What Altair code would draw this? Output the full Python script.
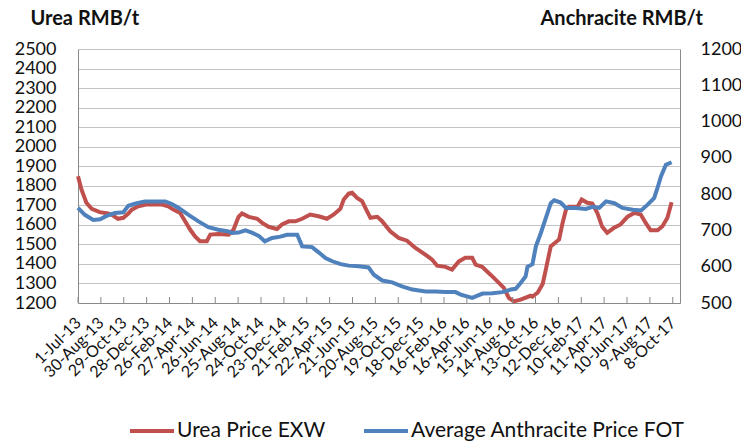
import altair as alt
import pandas as pd

# ---------------- data ----------------
urea_dates = [
    "2013-07-01", "2013-07-10", "2013-07-23", "2013-08-06", "2013-08-27", "2013-09-18",
    "2013-10-01", "2013-10-14", "2013-10-28", "2013-11-10", "2013-11-19", "2013-12-06",
    "2013-12-26", "2014-02-06", "2014-02-23", "2014-03-08", "2014-03-26", "2014-04-08",
    "2014-04-21", "2014-05-04", "2014-05-17", "2014-06-04", "2014-06-13", "2014-07-04",
    "2014-07-31", "2014-08-13", "2014-08-26", "2014-09-04", "2014-09-22", "2014-10-14",
    "2014-10-27", "2014-11-13", "2014-12-05", "2014-12-18", "2015-01-05", "2015-01-22",
    "2015-02-09", "2015-03-02", "2015-03-24", "2015-04-15", "2015-05-03", "2015-05-20",
    "2015-05-29", "2015-06-11", "2015-06-20", "2015-07-03", "2015-07-16", "2015-07-29",
    "2015-08-07", "2015-08-25", "2015-09-06", "2015-09-28", "2015-10-20", "2015-11-11",
    "2015-12-03", "2015-12-29", "2016-01-16", "2016-01-29", "2016-02-20", "2016-03-08",
    "2016-03-26", "2016-04-12", "2016-04-30", "2016-05-09", "2016-05-26", "2016-06-17",
    "2016-07-09", "2016-07-22", "2016-08-04", "2016-08-17", "2016-09-04", "2016-09-30",
    "2016-10-05", "2016-10-19", "2016-11-01", "2016-11-09", "2016-11-22", "2016-12-05",
    "2016-12-14", "2016-12-23", "2017-01-01", "2017-01-09", "2017-01-31", "2017-02-11",
    "2017-02-26", "2017-03-11", "2017-03-24", "2017-04-06", "2017-04-19", "2017-05-07",
    "2017-05-24", "2017-06-11", "2017-06-29", "2017-07-16", "2017-07-29", "2017-08-11",
    "2017-08-29", "2017-09-11", "2017-09-24", "2017-10-05",
]
urea_values = [
    1849, 1781, 1713, 1682, 1665, 1658,
    1648, 1631, 1636, 1658, 1678, 1695,
    1704, 1704, 1695, 1678, 1661, 1618,
    1576, 1541, 1516, 1516, 1550, 1553,
    1550, 1576, 1641, 1658, 1641, 1631,
    1610, 1590, 1579, 1602, 1618, 1618,
    1631, 1653, 1644, 1631, 1653, 1682,
    1730, 1760, 1764, 1738, 1721, 1670,
    1636, 1641, 1620, 1567, 1533, 1519,
    1482, 1448, 1422, 1391, 1385, 1371,
    1413, 1431, 1431, 1396, 1385, 1345,
    1303, 1277, 1226, 1208, 1217, 1237,
    1232, 1254, 1299, 1371, 1490, 1511,
    1525, 1610, 1678, 1692, 1692, 1730,
    1713, 1709, 1661, 1590, 1559, 1585,
    1602, 1641, 1661, 1653, 1610, 1572,
    1572, 1593, 1636, 1716,
]

anth_dates = [
    "2013-07-01", "2013-07-19", "2013-08-10", "2013-08-28", "2013-09-14", "2013-10-06",
    "2013-10-28", "2013-11-10", "2013-12-02", "2013-12-24", "2014-02-15", "2014-03-04",
    "2014-03-22", "2014-04-17", "2014-05-13", "2014-06-08", "2014-07-04", "2014-07-31",
    "2014-08-09", "2014-08-26", "2014-09-13", "2014-09-30", "2014-10-18", "2014-11-03",
    "2014-11-22", "2014-12-14", "2014-12-31", "2015-01-27", "2015-02-09", "2015-03-07",
    "2015-03-25", "2015-04-11", "2015-04-29", "2015-05-21", "2015-06-11", "2015-07-07",
    "2015-08-02", "2015-08-16", "2015-09-07", "2015-10-03", "2015-10-29", "2015-11-25",
    "2015-12-30", "2016-01-25", "2016-02-20", "2016-03-17", "2016-03-31", "2016-04-30",
    "2016-05-27", "2016-06-22", "2016-07-18", "2016-08-09", "2016-08-22", "2016-09-04",
    "2016-09-17", "2016-09-22", "2016-10-05", "2016-10-14", "2016-10-27", "2016-11-09",
    "2016-11-22", "2016-12-01", "2016-12-18", "2017-01-01", "2017-01-27", "2017-02-22",
    "2017-03-12", "2017-03-29", "2017-04-16", "2017-05-08", "2017-05-29", "2017-06-25",
    "2017-07-17", "2017-08-03", "2017-08-20", "2017-08-29", "2017-09-07", "2017-09-20",
    "2017-10-05",
]
anth_values = [
    762, 743, 729, 731, 740, 748,
    750, 768, 775, 780, 780, 773,
    762, 743, 725, 709, 702, 697,
    693, 694, 700, 694, 685, 670,
    679, 683, 688, 688, 656, 654,
    639, 624, 615, 607, 603, 601,
    598, 578, 562, 557, 546, 537,
    532, 532, 530, 530, 523, 514,
    526, 527, 530, 537, 539, 555,
    573, 600, 607, 656, 693, 734,
    775, 783, 777, 762, 762, 759,
    765, 762, 780, 775, 762, 757,
    755, 771, 789, 817, 849, 881,
    888,
]

series_names = ["Urea Price EXW", "Average Anthracite Price FOT"]
series_colors = ["#C0504D", "#4F81BD"]

tick_dates = [
    (2013, 7, 1), (2013, 8, 30), (2013, 10, 29), (2013, 12, 28), (2014, 2, 26),
    (2014, 4, 27), (2014, 6, 26), (2014, 8, 25), (2014, 10, 24), (2014, 12, 23),
    (2015, 2, 21), (2015, 4, 22), (2015, 6, 21), (2015, 8, 20), (2015, 10, 19),
    (2015, 12, 18), (2016, 2, 16), (2016, 4, 16), (2016, 6, 15), (2016, 8, 14),
    (2016, 10, 13), (2016, 12, 12), (2017, 2, 10), (2017, 4, 11), (2017, 6, 10),
    (2017, 8, 9), (2017, 10, 8),
]
x_start = (2013, 7, 1)
x_end = (2017, 10, 27)

left_ticks = [1200, 1300, 1400, 1500, 1600, 1700, 1800, 1900, 2000,
              2100, 2200, 2300, 2400, 2500]
right_ticks = [500, 600, 700, 800, 900, 1000, 1100, 1200]

# ---------------- chart ----------------
FONT = "Lato"
TXT = "#111111"
AXIS_GREY = "#8a8a8a"
W, H = 602, 254


def dt(t):
    return alt.DateTime(year=t[0], month=t[1], date=t[2], utc=True)


urea_df = pd.DataFrame({"date": urea_dates, "value": urea_values, "series": series_names[0]})
anth_df = pd.DataFrame({"date": anth_dates, "value": anth_values, "series": series_names[1]})
tick_df = pd.DataFrame({"date": ["%04d-%02d-%02d" % t for t in tick_dates]})

xscale = alt.Scale(type="utc", domain=[dt(x_start), dt(x_end)], nice=False)

x_axis = alt.Axis(
    values=[dt(t) for t in tick_dates],
    format="%-d-%b-%y",
    labelAngle=-45,
    labelAlign="right",
    labelBaseline="middle",
    labelPadding=17,
    labelFontSize=16,
    labelFont=FONT,
    labelColor=TXT,
    labelOverlap=False,
    ticks=False,
    grid=False,
    domainColor=AXIS_GREY,
    domainWidth=1,
    title=None,
)

color = alt.Color(
    "series:N",
    scale=alt.Scale(domain=series_names, range=series_colors),
    legend=alt.Legend(title=None),
)

urea = alt.Chart(urea_df).mark_line(strokeWidth=4).encode(
    x=alt.X("date:T", scale=xscale, axis=x_axis),
    y=alt.Y(
        "value:Q",
        scale=alt.Scale(domain=[1200, 2500], nice=False, zero=False),
        axis=alt.Axis(
            values=left_ticks,
            format="d",
            orient="left",
            title="Urea RMB/t",
            titleAngle=0,
            titleAlign="left",
            titleBaseline="middle",
            titleX=-48,
            titleY=-31,
            titleFont=FONT,
            titleFontSize=20,
            titleFontWeight="bold",
            titleColor=TXT,
            labelFont=FONT,
            labelFontSize=18,
            labelColor=TXT,
            labelPadding=22,
            ticks=False,
            grid=True,
            gridColor="#c4c4c4",
            gridWidth=1,
            domainColor=AXIS_GREY,
        ),
    ),
    color=color,
)

anth = alt.Chart(anth_df).mark_line(strokeWidth=4).encode(
    x=alt.X("date:T", scale=xscale, axis=x_axis),
    y=alt.Y(
        "value:Q",
        scale=alt.Scale(domain=[500, 1200], nice=False, zero=False),
        axis=alt.Axis(
            values=right_ticks,
            format="d",
            orient="right",
            title="Anchracite RMB/t",
            titleAngle=0,
            titleAlign="left",
            titleBaseline="middle",
            titleX=-140,
            titleY=-31,
            titleFont=FONT,
            titleFontSize=20,
            titleFontWeight="bold",
            titleColor=TXT,
            labelFont=FONT,
            labelFontSize=18,
            labelColor=TXT,
            labelPadding=20,
            ticks=False,
            grid=False,
            domainColor=AXIS_GREY,
        ),
    ),
    color=color,
)

ticks = alt.Chart(tick_df).mark_rule(color=AXIS_GREY, strokeWidth=1).encode(
    x=alt.X("date:T", scale=xscale, axis=x_axis),
    y=alt.value(H - 6),
    y2=alt.value(H),
)

chart = (
    alt.layer(urea, anth, ticks)
    .resolve_scale(y="independent")
    .properties(
        width=W,
        height=H,
        autosize=alt.AutoSizeParams(type="none"),
        padding={"left": 70, "top": 41, "right": 61, "bottom": 142},
        background="white",
    )
    .configure_view(strokeWidth=0)
    .configure_legend(
        orient="none",
        legendX=50,
        legendY=358,
        direction="horizontal",
        symbolType="stroke",
        symbolSize=1936,
        symbolStrokeWidth=4,
        labelFontSize=21,
        labelFont=FONT,
        labelColor=TXT,
        labelOffset=1,
        columnPadding=30,
        labelLimit=400,
    )
)

chart.save("out.html", embed_options={"renderer": "svg", "actions": False})
